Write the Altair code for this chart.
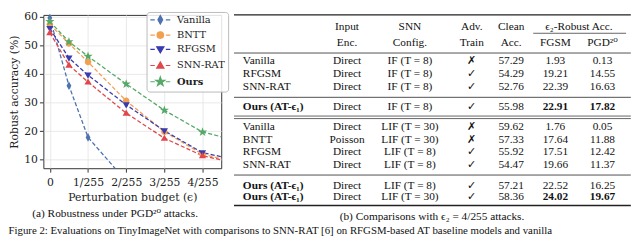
import math
import altair as alt
import pandas as pd

# ---------------- line chart data (robust accuracy under PGD-20) ----------------
EPS = [0, 0.5, 1, 2, 3, 4, 5]          # perturbation budget, in units of 1/255
SERIES = ["Vanilla", "BNTT", "RFGSM", "SNN-RAT", "Ours"]
ACC_VANILLA = [59.62, 35.9, 17.8, 2.5, 0.6, 0.05, 0.0]
ACC_BNTT = [57.33, 50.7, 44.2, 30.6, 19.8, 11.88, 8.8]
ACC_RFGSM = [55.92, 45.6, 39.6, 29.2, 20.1, 12.42, 9.6]
ACC_SNNRAT = [54.47, 43.1, 37.2, 26.3, 17.5, 11.37, 8.4]
ACC_OURS = [58.36, 51.3, 46.2, 36.5, 27.3, 19.67, 16.3]
COLORS = ["#4c72b0", "#f29f50", "#3b3bb0", "#e0474c", "#55a868"]

# ---------------- table data ----------------
HEADER_TOP = ["Input", "SNN", "Adv.", "Clean", "ϵ₂-Robust Acc."]
HEADER_BOTTOM = ["Enc.", "Config.", "Train", "Acc.", "FGSM", "PGD²⁰"]
TABLE_METHOD = ["Vanilla", "RFGSM", "SNN-RAT", "Ours (AT-ϵ₁)",
                "Vanilla", "BNTT", "RFGSM", "SNN-RAT", "Ours (AT-ϵ₁)", "Ours (AT-ϵ₁)"]
TABLE_ENC = ["Direct", "Direct", "Direct", "Direct",
             "Direct", "Poisson", "Direct", "Direct", "Direct", "Direct"]
TABLE_CFG = ["IF (T = 8)", "IF (T = 8)", "IF (T = 8)", "IF (T = 8)",
             "LIF (T = 30)", "LIF (T = 30)", "LIF (T = 8)", "LIF (T = 8)", "LIF (T = 8)", "LIF (T = 30)"]
TABLE_ADV = ["✗", "✓", "✓", "✓", "✗", "✗", "✓", "✓", "✓", "✓"]
TABLE_CLEAN = ["57.29", "54.29", "52.76", "55.98", "59.62", "57.33", "55.92", "54.47", "57.21", "58.36"]
TABLE_FGSM = ["1.93", "19.21", "22.39", "22.91", "1.76", "17.64", "17.51", "19.66", "22.52", "24.02"]
TABLE_PGD = ["0.13", "14.55", "16.63", "17.82", "0.05", "11.88", "12.42", "11.37", "16.25", "19.67"]
BOLD_FGSM = [False, False, False, True, False, False, False, False, False, True]
BOLD_PGD = [False, False, False, True, False, False, False, False, False, True]

CAPTION_A = "(a) Robustness under PGD²⁰ attacks."
CAPTION_B = "(b) Comparisons with ϵ₂ = 4/255 attacks."
FIG_CAPTION = ("Figure 2: Evaluations on TinyImageNet with comparisons to SNN-RAT [6] "
               "on RFGSM-based AT baseline models and vanilla")

# ---------------- layout / style ----------------
SERIF = "Liberation Serif, DejaVu Serif"
ROW_SLOTS = [3.68, 4.68, 5.68, 7.26, 8.84, 9.85, 10.85, 11.85, 13.48, 14.4]
HEAD_SLOTS = [0.92, 2.2]
COL_PX = [9, 115, 179, 242, 282, 327, 375]   # table column anchors (px from table left)
RULES = [  # slot, col start, col end, width
    (0.0, -0.085, 6.6, 1.4), (1.45, 4.5, 6.5, 0.7), (3.01, -0.085, 6.6, 0.8),
    (6.51, -0.085, 6.6, 0.8), (7.99, -0.085, 6.6, 0.7), (8.19, -0.085, 6.6, 0.7),
    (12.65, -0.085, 6.6, 0.8), (15.06, -0.085, 6.6, 1.4),
]


def star_path(R=1.4, r=0.55):
    pts = []
    for k in range(10):
        a = math.radians(-90 + 36 * k)
        rad = R if k % 2 == 0 else r
        pts.append(f"{rad * math.cos(a):.3f},{rad * math.sin(a):.3f}")
    return "M" + "L".join(pts) + "Z"


MARKERS = [
    "M0,-1.25L0.7,0L0,1.25L-0.7,0Z",
    "M0.95,0A0.95,0.95,0,1,1,-0.95,0A0.95,0.95,0,1,1,0.95,0Z",
    "M-1.05,-0.75L1.05,-0.75L0,1.05Z",
    "M-1.05,0.75L1.05,0.75L0,-1.05Z",
    star_path(),
]
DASHES = "M-2.9,0L-1.6,0M1.6,0L2.9,0"
LEGEND_MARKERS = [DASHES + m for m in MARKERS]

# ---------------- build line chart ----------------
records = []
for name, vals in zip(SERIES, [ACC_VANILLA, ACC_BNTT, ACC_RFGSM, ACC_SNNRAT, ACC_OURS]):
    for e, v in zip(EPS, vals):
        records.append({"series": name, "eps": e, "acc": v})
line_df = pd.DataFrame(records)

xs = alt.X("eps:Q", scale=alt.Scale(domain=[-0.17, 4.49], nice=False, zero=False),
           axis=alt.Axis(values=[0, 1, 2, 3, 4], title="Perturbation budget (ϵ)",
                         labelExpr="datum.value == 0 ? '0' : datum.value + '/255'",
                         labelPadding=5, titlePadding=4))
ys = alt.Y("acc:Q", scale=alt.Scale(domain=[7.0, 60.7], nice=False, zero=False),
           axis=alt.Axis(values=[10, 20, 30, 40, 50, 60], title="Robust accuracy (%)",
                         titlePadding=4))
color_scale = alt.Scale(domain=SERIES, range=COLORS)

base = alt.Chart(line_df)
layers = []
for name, col in zip(SERIES, COLORS):
    layers.append(
        base.mark_line(strokeDash=[4.2, 2.2], strokeWidth=1.3, clip=True, color=col)
        .transform_filter(f"datum.series == '{name}'").encode(x=xs, y=ys))
for name, col, path in zip(SERIES, COLORS, MARKERS):
    layers.append(
        base.mark_point(filled=True, size=49, opacity=1, shape=path, color=col)
        .transform_filter(f"datum.series == '{name}' && datum.eps <= 4.49 && datum.acc >= 7")
        .encode(x=xs, y=ys))

leg = alt.Legend(title=None, orient="none", legendX=105, legendY=-3,
                 strokeColor="#bbbbbb", fillColor="rgba(255,255,255,0.85)", cornerRadius=3,
                 labelFontWeight={"expr": "datum.label == 'Ours' ? 'bold' : 'normal'"})
legend_layer = base.mark_point(filled=True, size=49, opacity=1).transform_filter("false").encode(
    x=xs, y=ys,
    fill=alt.Fill("series:N", scale=color_scale, legend=leg),
    stroke=alt.Stroke("series:N", scale=color_scale, legend=leg),
    shape=alt.Shape("series:N", scale=alt.Scale(domain=SERIES, range=LEGEND_MARKERS), legend=leg))
layers.append(legend_layer)

line_chart = alt.layer(*layers).properties(
    width=181, height=156,
    view=alt.ViewBackground(stroke="#333333", strokeWidth=1),
    title=alt.TitleParams(CAPTION_A, orient="bottom", anchor="middle", frame="bounds",
                          font=SERIF, fontSize=11.5, fontWeight="normal",
                          color="#111111", offset=6))

# ---------------- build table ----------------
cells = []
for c, t in enumerate(HEADER_TOP):
    col = c + 1 if c < 4 else 5.5
    cells.append({"slot": HEAD_SLOTS[0], "col": col, "text": t, "align": "center", "bold": "n"})
for c, t in enumerate(HEADER_BOTTOM):
    cells.append({"slot": HEAD_SLOTS[1], "col": c + 1, "text": t, "align": "center", "bold": "n"})
for i in range(len(TABLE_METHOD)):
    row = [TABLE_METHOD[i], TABLE_ENC[i], TABLE_CFG[i], TABLE_ADV[i],
           TABLE_CLEAN[i], TABLE_FGSM[i], TABLE_PGD[i]]
    bold = [TABLE_METHOD[i].startswith("Ours"), False, False, False, False, BOLD_FGSM[i], BOLD_PGD[i]]
    for c, t in enumerate(row):
        cells.append({"slot": ROW_SLOTS[i], "col": c, "text": t,
                      "align": "left" if c == 0 else "center", "bold": "y" if bold[c] else "n"})
cells_df = pd.DataFrame(cells)
rules_df = pd.DataFrame(RULES, columns=["slot", "x0", "x1", "w"])

TXS = alt.Scale(domain=list(range(7)), range=COL_PX, nice=False, zero=False)
TYS = alt.Scale(domain=[0, 15.06], nice=False, zero=False, reverse=True)


def text_layer(align, weight, flag):
    return alt.Chart(cells_df).transform_filter(
        f"datum.align == '{align}' && datum.bold == '{flag}'").mark_text(
        align=align, baseline="middle", font=SERIF, fontSize=11.5,
        fontWeight=weight, color="#111111").encode(
        x=alt.X("col:Q", scale=TXS, axis=None),
        y=alt.Y("slot:Q", scale=TYS, axis=None),
        text="text:N")


rules = alt.Chart(rules_df).mark_rule(color="#222222").encode(
    x=alt.X("x0:Q", scale=TXS, axis=None), x2="x1:Q",
    y=alt.Y("slot:Q", scale=TYS, axis=None),
    strokeWidth=alt.StrokeWidth("w:Q", scale=None, legend=None))

table_chart = alt.layer(
    rules,
    text_layer("left", "normal", "n"), text_layer("left", "bold", "y"),
    text_layer("center", "normal", "n"), text_layer("center", "bold", "y"),
).properties(
    width=403, height=194,
    view=alt.ViewBackground(stroke=None),
    title=alt.TitleParams(CAPTION_B, orient="bottom", anchor="middle",
                          font=SERIF, fontSize=11.5, fontWeight="normal",
                          color="#111111", offset=5))

chart = alt.hconcat(line_chart, table_chart, spacing=11).properties(
    padding=0,
    title=alt.TitleParams(FIG_CAPTION, orient="bottom", anchor="start",
                          font=SERIF, fontSize=11, fontWeight="normal",
                          color="#111111", offset=3),
).configure_axis(
    labelFont="DejaVu Serif", labelFontSize=11, labelColor="#222222",
    titleFont="DejaVu Serif", titleFontSize=11, titleFontWeight="normal", titleColor="#222222",
    tickColor="#333333", tickSize=4, domain=False, gridColor="#e3e3e3", gridWidth=0.8,
    labelPadding=2,
).configure_legend(
    labelFont="DejaVu Serif", labelFontSize=10, labelColor="#222222",
    symbolSize=49, symbolStrokeWidth=1.2, padding=3, rowPadding=2.5,
    symbolOffset=6, labelOffset=12,
)

chart.save("out.html", embed_options={"renderer": "svg", "actions": False})
